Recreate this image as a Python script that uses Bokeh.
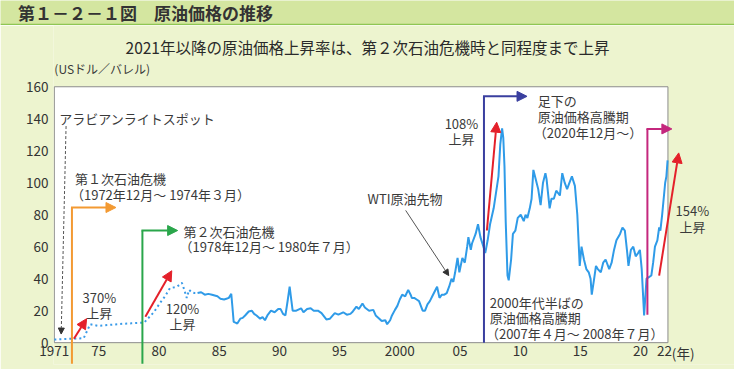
from bokeh.plotting import figure
from bokeh.layouts import column
from bokeh.models import Range1d, FixedTicker, Label, Arrow, NormalHead, BoxAnnotation
from bokeh.embed import file_html
from bokeh.resources import INLINE

# ---------------- data ----------------
# Arabian Light spot price (USD/bbl), dotted line
spot_year = [1971.3, 1972.0, 1972.9, 1973.74, 1974.28, 1974.96, 1976.0, 1977.0, 1977.7,
             1978.76, 1979.57, 1980.1, 1980.5, 1980.9, 1981.5, 1981.9, 1982.1, 1982.3,
             1982.5, 1982.7, 1982.95, 1983.2]
spot_price = [2.0, 2.2, 2.5, 2.8, 11.5, 10.5, 11.2, 11.8, 12.1,
              12.5, 19.1, 25.0, 29.0, 34.0, 35.0, 37.4, 33.0, 28.0,
              33.0, 31.5, 31.0, 31.0]

# WTI crude futures (USD/bbl), solid line
wti_year = [1983.2, 1983.5, 1983.8, 1984.1, 1984.4, 1984.85, 1985.1, 1985.4, 1985.6, 1985.8,
            1986.0, 1986.1, 1986.2, 1986.35, 1986.5, 1986.75, 1986.95, 1987.15, 1987.45, 1987.7,
            1987.9, 1988.1, 1988.4, 1988.6, 1988.8, 1989.0, 1989.3, 1989.6, 1989.9, 1990.1,
            1990.3, 1990.5, 1990.7, 1990.85, 1991.0, 1991.1, 1991.4, 1991.8, 1992.0, 1992.3,
            1992.6, 1992.85, 1993.2, 1993.5, 1993.9, 1994.2, 1994.6, 1994.9, 1995.3, 1995.6,
            1995.9, 1996.1, 1996.4, 1996.6, 1996.9, 1997.1, 1997.45, 1997.8, 1998.0, 1998.3,
            1998.5, 1998.8, 1998.95, 1999.2, 1999.35, 1999.6, 1999.8, 2000.0, 2000.2, 2000.45,
            2000.7, 2000.9, 2001.0, 2001.2, 2001.4, 2001.6, 2001.9, 2002.1, 2002.3, 2002.5,
            2002.7, 2003.1, 2003.3, 2003.5, 2003.7, 2003.9, 2004.1, 2004.3, 2004.45, 2004.6,
            2004.8, 2004.95, 2005.2, 2005.4, 2005.6, 2005.7, 2005.9, 2006.0, 2006.3, 2006.5,
            2006.7, 2006.95, 2007.1, 2007.3, 2007.5, 2007.8, 2008.0, 2008.2, 2008.35, 2008.5,
            2008.6, 2008.7, 2008.8, 2008.95, 2009.05, 2009.25, 2009.4, 2009.6, 2009.8, 2010.05,
            2010.3, 2010.45, 2010.6, 2010.8, 2010.95, 2011.1, 2011.3, 2011.5, 2011.7, 2011.9,
            2012.1, 2012.2, 2012.45, 2012.6, 2012.8, 2013.0, 2013.3, 2013.5, 2013.7, 2013.9,
            2014.1, 2014.3, 2014.55, 2014.75, 2014.95, 2015.1, 2015.3, 2015.5, 2015.7, 2015.85,
            2015.95, 2016.15, 2016.3, 2016.45, 2016.7, 2016.9, 2017.1, 2017.4, 2017.6, 2017.8,
            2018.0, 2018.3, 2018.5, 2018.7, 2018.9, 2019.0, 2019.2, 2019.4, 2019.6, 2019.8,
            2019.95, 2020.1, 2020.3, 2020.5, 2020.7, 2020.9, 2021.05, 2021.2, 2021.4, 2021.55,
            2021.65, 2021.8, 2021.95, 2022.05, 2022.15, 2022.25]
wti_price = [31.0, 31.5, 30.0, 30.5, 30.0, 29.0, 27.5, 27.0, 27.5, 28.0,
             30.5, 22.0, 13.0, 12.5, 12.0, 15.0, 15.5, 17.0, 19.5, 20.0,
             18.0, 17.0, 15.0, 16.0, 14.0, 17.0, 20.0, 19.0, 21.0, 21.0,
             18.0, 17.0, 27.0, 35.0, 26.0, 20.0, 20.0, 21.5, 19.0, 21.0,
             21.5, 20.0, 20.0, 18.5, 14.5, 15.0, 18.5, 17.5, 19.0, 17.5,
             18.0, 19.5, 22.5, 21.0, 24.5, 22.0, 20.0, 20.5, 17.0, 15.0,
             13.5, 14.0, 11.5, 14.0, 17.0, 20.5, 23.0, 27.0, 30.0, 29.0,
             33.0, 30.0, 28.0, 28.0, 27.0, 26.0, 20.0, 20.0, 24.0, 26.0,
             29.0, 35.0, 28.0, 30.0, 30.0, 31.0, 35.0, 40.0, 38.0, 44.0,
             53.0, 44.0, 53.0, 50.0, 60.0, 66.0, 58.0, 62.0, 68.0, 74.0,
             66.0, 60.0, 56.0, 64.0, 74.0, 84.0, 94.0, 104.0, 124.0, 134.0,
             128.0, 110.0, 76.0, 42.0, 39.0, 52.0, 68.0, 70.0, 78.0, 80.0,
             76.0, 80.0, 78.0, 84.0, 90.0, 108.0, 102.0, 96.0, 86.0, 100.0,
             106.0, 102.0, 84.0, 90.0, 90.0, 95.0, 92.0, 106.0, 100.0, 96.0,
             100.0, 104.0, 98.0, 80.0, 48.0, 60.0, 52.0, 46.0, 44.0, 40.0,
             30.0, 40.0, 48.0, 46.0, 44.0, 50.0, 52.0, 46.0, 50.0, 58.0,
             64.0, 68.0, 72.0, 70.0, 56.0, 48.0, 58.0, 60.0, 54.0, 56.0,
             58.0, 46.0, 17.0, 40.0, 41.0, 42.0, 50.0, 60.0, 64.0, 72.0,
             70.0, 80.0, 92.0, 100.0, 104.0, 114.0]

x_ticks = [1971.3, 1975, 1980, 1985, 1990, 1995, 2000, 2005, 2010, 2015, 2020, 2022]
x_tick_labels = ["1971", "75", "80", "85", "90", "95", "2000", "05", "10", "15", "20", "22"]
y_ticks = [0, 20, 40, 60, 80, 100, 120, 140, 160]

# ---------------- geometry helpers (reference pixels -> data) ----------------
FONT = "Noto Sans CJK JP"
TXT = "#3a3a3a"
W, H = 734, 369
SX, SY = W / 750.0, H / 385.0           # reference 750x385 -> figure 734x369
HT = 25                                 # title-bar figure height
HM = H - HT                             # main figure height
MBL, MBB = 53, 5                        # main figure borders (left / bottom)

FL, FR, FT, FB = 55, 682, 90, 357       # plot box in reference pixels
X0, X1 = 1971.3, 2022.28
Y0, Y1 = 0, 160


def dx(rx):
    return X0 + (rx - FL) * (X1 - X0) / (FR - FL)


def dy(ry):
    return Y0 + (FB - ry) * (Y1 - Y0) / (FB - FT)


# frame of the main figure in reference pixels
frame_left = MBL / SX
frame_right = W / SX
frame_top = HT / SY
frame_bottom = (HT + HM - MBB) / SY

# ---------------- title bar (own small figure) ----------------
tb = figure(width=W, height=HT, output_backend="svg", toolbar_location=None, title=None,
            x_axis_type=None, y_axis_type=None,
            x_range=Range1d(0, 750), y_range=Range1d(HT / SY, 0),
            min_border_left=0, min_border_right=0, min_border_top=0, min_border_bottom=0)
tb.background_fill_color = "#d4e6a0"
tb.border_fill_color = "#d4e6a0"
tb.outline_line_color = None
tb.grid.visible = False
tb.add_layout(BoxAnnotation(left=0, right=750, top=24.2, bottom=HT / SY,
                            fill_color="#8fc654", fill_alpha=1, line_color=None))
tb.add_layout(Label(x=18, y=13, text="第１－２－１図　原油価格の推移", text_font=FONT,
                    text_font_size="17px", text_color="#333333", text_font_style="bold",
                    text_baseline="middle"))

# ---------------- main figure ----------------
p = figure(width=W, height=HM, output_backend="svg", toolbar_location=None, title=None,
           x_range=Range1d(dx(frame_left), dx(frame_right)),
           y_range=Range1d(dy(frame_bottom), dy(frame_top)),
           min_border_left=MBL, min_border_right=0, min_border_top=0, min_border_bottom=MBB)
p.background_fill_color = "#edf4cf"
p.border_fill_color = "#edf4cf"
p.outline_line_color = None
p.grid.visible = False

# keep each figure's frame where it is set (no frame alignment inside the column)
for fig in (tb, p):
    try:
        fig.frame_align = False
    except Exception:
        pass

for ax in (p.xaxis, p.yaxis):
    ax.axis_line_color = None
    ax.major_tick_line_color = None
    ax.minor_tick_line_color = None
    ax.major_tick_out = 0
    ax.major_tick_in = 0
    ax.major_label_text_font = FONT
    ax.major_label_text_font_size = "13.5px"
    ax.major_label_text_color = "#333333"

p.xaxis.ticker = FixedTicker(ticks=x_ticks)
p.xaxis.major_label_overrides = {t: s for t, s in zip(x_ticks, x_tick_labels)}
p.xaxis.major_label_standoff = int(round((360 - frame_bottom) * SY))
p.yaxis.ticker = FixedTicker(ticks=y_ticks)
p.yaxis.major_label_standoff = 5

# white plot area with grey border
p.quad(left=[X0], right=[X1], bottom=[Y0], top=[Y1], fill_color="white",
       line_color="#8c8c8c", line_width=1)


def text(s, x, y, size="13px", align="left", color=TXT, style="normal"):
    p.add_layout(Label(x=dx(x), y=dy(y), text=s, text_font=FONT, text_font_size=size,
                       text_color=color, text_align=align, text_baseline="middle",
                       text_font_style=style))


def arrow(x0, y0, x1, y1, color, width=2, head=None, dash="solid"):
    p.add_layout(Arrow(x_start=dx(x0), y_start=dy(y0), x_end=dx(x1), y_end=dy(y1),
                       line_color=color, line_width=width, line_dash=dash, end=head))


def head(color, size=10):
    return NormalHead(size=size, fill_color=color, line_color=color, line_width=1)


text("2021年以降の原油価格上昇率は、第２次石油危機時と同程度まで上昇", 375, 48,
     size="15.5px", align="center", color="#2a2a2a")
text("(USドル／バレル)", 55, 71, size="12px")

# ---------------- data lines ----------------
p.line(spot_year, spot_price, line_color="#3a9be8", line_width=2, line_dash="2 3")
p.line(wti_year, wti_price, line_color="#2f9be8", line_width=2)

# ---------------- period markers ----------------
ORANGE, GREEN, NAVY, MAGENTA, RED = "#f39a32", "#2aa64b", "#3a3f9f", "#c4277d", "#e4202a"
arrow(73, 379, 73, 216, ORANGE)
arrow(72, 216, 118, 216, ORANGE, head=head(ORANGE))
arrow(145, 379, 145, 240, GREEN)
arrow(144, 240, 181, 240, GREEN, head=head(GREEN))
arrow(494, 357, 494, 100, NAVY)
arrow(493, 100, 538, 100, NAVY, head=head(NAVY))
arrow(661, 328, 661, 134, MAGENTA)
arrow(660, 134, 686, 134, MAGENTA, head=head(MAGENTA))

# red growth arrows
arrow(75, 353, 88, 332, RED, head=head(RED))
arrow(148, 330, 175, 282, RED, head=head(RED))
arrow(497, 240, 507, 127, RED, head=head(RED))
arrow(673, 287, 693, 159, RED, head=head(RED))

# pointers
arrow(67, 131, 62, 348, "#555555", width=1, head=head("#333333", size=6), dash="3 2")
arrow(414, 219, 458, 287, "#555555", width=1, head=head("#333333", size=6))

# ---------------- annotation texts ----------------
text("アラビアンライトスポット", 60, 123)
text("第１次石油危機", 76, 186)
text("（1972年12月～ 1974年３月）", 72, 202)
text("第２次石油危機", 187, 241)
text("（1978年12月～ 1980年７月）", 183, 257)
text("370%", 101, 310, align="center")
text("上昇", 101, 326, align="center")
text("120%", 186, 321, align="center")
text("上昇", 186, 337, align="center")
text("108%", 471, 128, align="center")
text("上昇", 471, 144, align="center")
text("154%", 707, 219, align="center")
text("上昇", 707, 236, align="center")
text("WTI原油先物", 375, 207)
text("2000年代半ばの", 500, 315)
text("原油価格高騰期", 500, 331)
text("（2007年４月～ 2008年７月）", 496, 347)
text("足下の", 549, 104)
text("原油価格高騰期", 549, 121)
text("（2020年12月～）", 545, 138)
text("(年)", 686, 368, size="13.5px", color="#333333")

layout = column(tb, p, spacing=0)
open("out.html", "w").write(file_html(layout, INLINE))
